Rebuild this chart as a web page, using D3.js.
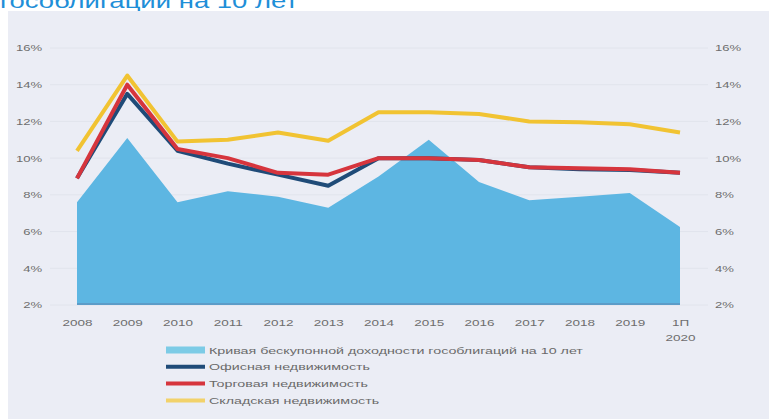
<!DOCTYPE html>
<html>
<head>
<meta charset="utf-8">
<script src="https://cdn.jsdelivr.net/npm/d3@7"></script>
<style>
  html, body { margin: 0; padding: 0; background: #ffffff; }
  svg { display: block; }
</style>
</head>
<body>
<svg id="chart" width="769" height="419"></svg>
<script>
// Periods on the horizontal axis (last one is the first half of 2020)
const periods = ["2008", "2009", "2010", "2011", "2012", "2013", "2014", "2015", "2016", "2017", "2018", "2019", "1П 2020"];

// 10-year zero-coupon government bond yield curve, %
const bondYield = [7.6, 11.1, 7.6, 8.2, 7.9, 7.3, 9.0, 11.0, 8.7, 7.7, 7.9, 8.1, 6.25];
// Capitalisation rates by property segment, %
const officeRate = [8.9, 13.5, 10.4, 9.7, 9.1, 8.5, 10.0, 10.0, 9.9, 9.5, 9.4, 9.35, 9.2];
const retailRate = [8.9, 14.0, 10.5, 10.0, 9.2, 9.1, 10.0, 10.0, 9.9, 9.5, 9.45, 9.4, 9.2];
const warehouseRate = [10.4, 14.5, 10.9, 11.0, 11.4, 10.95, 12.5, 12.5, 12.4, 12.0, 11.95, 11.85, 11.4];

const yTicks = [2, 4, 6, 8, 10, 12, 14, 16];

const legendLabels = [
  "Кривая бескупонной доходности гособлигаций на 10 лет",
  "Офисная недвижимость",
  "Торговая недвижимость",
  "Складская недвижимость"
];

const colors = {
  area: "#5db6e2",
  areaEdge: "#5c9cc8",
  office: "#1f4b78",
  retail: "#d6353d",
  warehouse: "#f1c332"
};

const svg = d3.select("#chart");
const W = 769, H = 419;
const fontFamily = "Liberation Sans, Arial, sans-serif";
const labelColor = "#6e6e6e";

// Widen a text element horizontally by a factor, keeping its anchor
function widen(sel, factor) {
  sel.each(function() {
    const w = this.getComputedTextLength();
    d3.select(this)
      .attr("textLength", w * factor)
      .attr("lengthAdjust", "spacingAndGlyphs");
  });
}

// Title fragment at the very top
svg.append("text")
  .attr("x", 0).attr("y", 8)
  .attr("font-family", fontFamily)
  .attr("font-size", 21)
  .attr("fill", "#1f8fd8")
  .attr("textLength", 298)
  .attr("lengthAdjust", "spacingAndGlyphs")
  .text("гособлигации на 10 лет");

// Chart panel
svg.append("rect")
  .attr("x", 8).attr("y", 11)
  .attr("width", W - 8).attr("height", H - 11)
  .attr("fill", "#ebedf5");

const x = d3.scalePoint().domain(periods).range([77, 680]);
const y = d3.scaleLinear().domain([2, 16]).range([305, 48]);

// Gridlines
svg.append("g")
  .selectAll("line")
  .data(yTicks)
  .join("line")
  .attr("x1", 50).attr("x2", 708)
  .attr("y1", d => y(d)).attr("y2", d => y(d))
  .attr("stroke", "#e1e4ec")
  .attr("stroke-width", 1);

// Left and right value axes
const fmt = d => d + "%";
const leftAxis = svg.append("g")
  .attr("transform", "translate(43,0)")
  .call(d3.axisLeft(y).tickValues(yTicks).tickFormat(fmt).tickSize(0).tickPadding(1));
const rightAxis = svg.append("g")
  .attr("transform", "translate(714,0)")
  .call(d3.axisRight(y).tickValues(yTicks).tickFormat(fmt).tickSize(0).tickPadding(1));
[leftAxis, rightAxis].forEach(g => {
  g.select(".domain").remove();
  g.selectAll("text")
    .attr("font-family", fontFamily)
    .attr("font-size", 9)
    .attr("fill", labelColor)
    .call(widen, 1.45);
});

// Category axis (labels only, "1П 2020" split over two lines)
const xAxis = svg.append("g")
  .attr("transform", "translate(0,316)")
  .call(d3.axisBottom(x).tickSize(0).tickPadding(0).tickFormat(""));
xAxis.select(".domain").remove();
xAxis.selectAll(".tick").each(function(d) {
  const g = d3.select(this);
  d.split(" ").forEach((part, i) => {
    g.append("text")
      .attr("font-family", fontFamily)
      .attr("font-size", 9)
      .attr("fill", labelColor)
      .attr("text-anchor", "middle")
      .attr("x", 0).attr("y", 10 + i * 15)
      .text(part)
      .call(widen, 1.5);
  });
});

// Bond yield area
const area = d3.area()
  .x((d, i) => x(periods[i]))
  .y0(y(2))
  .y1(d => y(d));
svg.append("path")
  .datum(bondYield)
  .attr("d", area)
  .attr("fill", colors.area);
svg.append("line")
  .attr("x1", x(periods[0])).attr("x2", x(periods[periods.length - 1]))
  .attr("y1", y(2) - 1).attr("y2", y(2) - 1)
  .attr("stroke", colors.areaEdge)
  .attr("stroke-width", 2);

// Segment lines
const line = d3.line()
  .x((d, i) => x(periods[i]))
  .y(d => y(d));
[
  [warehouseRate, colors.warehouse],
  [officeRate, colors.office],
  [retailRate, colors.retail]
].forEach(([data, c]) => {
  svg.append("path")
    .datum(data)
    .attr("d", line)
    .attr("fill", "none")
    .attr("stroke", c)
    .attr("stroke-width", 4)
    .attr("stroke-linejoin", "round");
});

// Legend
const legendItems = [
  { label: legendLabels[0], color: "#7ccbe6", kind: "box" },
  { label: legendLabels[1], color: colors.office, kind: "line" },
  { label: legendLabels[2], color: colors.retail, kind: "line" },
  { label: legendLabels[3], color: "#f2d26a", kind: "line" }
];
const legend = svg.append("g");
legendItems.forEach((it, i) => {
  const cy = 350 + i * 16.8;
  if (it.kind === "box") {
    legend.append("rect")
      .attr("x", 166).attr("y", cy - 3.5)
      .attr("width", 39).attr("height", 7)
      .attr("fill", it.color);
  } else {
    legend.append("line")
      .attr("x1", 166).attr("x2", 205)
      .attr("y1", cy).attr("y2", cy)
      .attr("stroke", it.color)
      .attr("stroke-width", 4);
  }
  legend.append("text")
    .attr("x", 209).attr("y", cy + 3.5)
    .attr("font-family", fontFamily)
    .attr("font-size", 9.5)
    .attr("fill", "#6a6a6a")
    .text(it.label)
    .call(widen, 1.5);
});
</script>
</body>
</html>
